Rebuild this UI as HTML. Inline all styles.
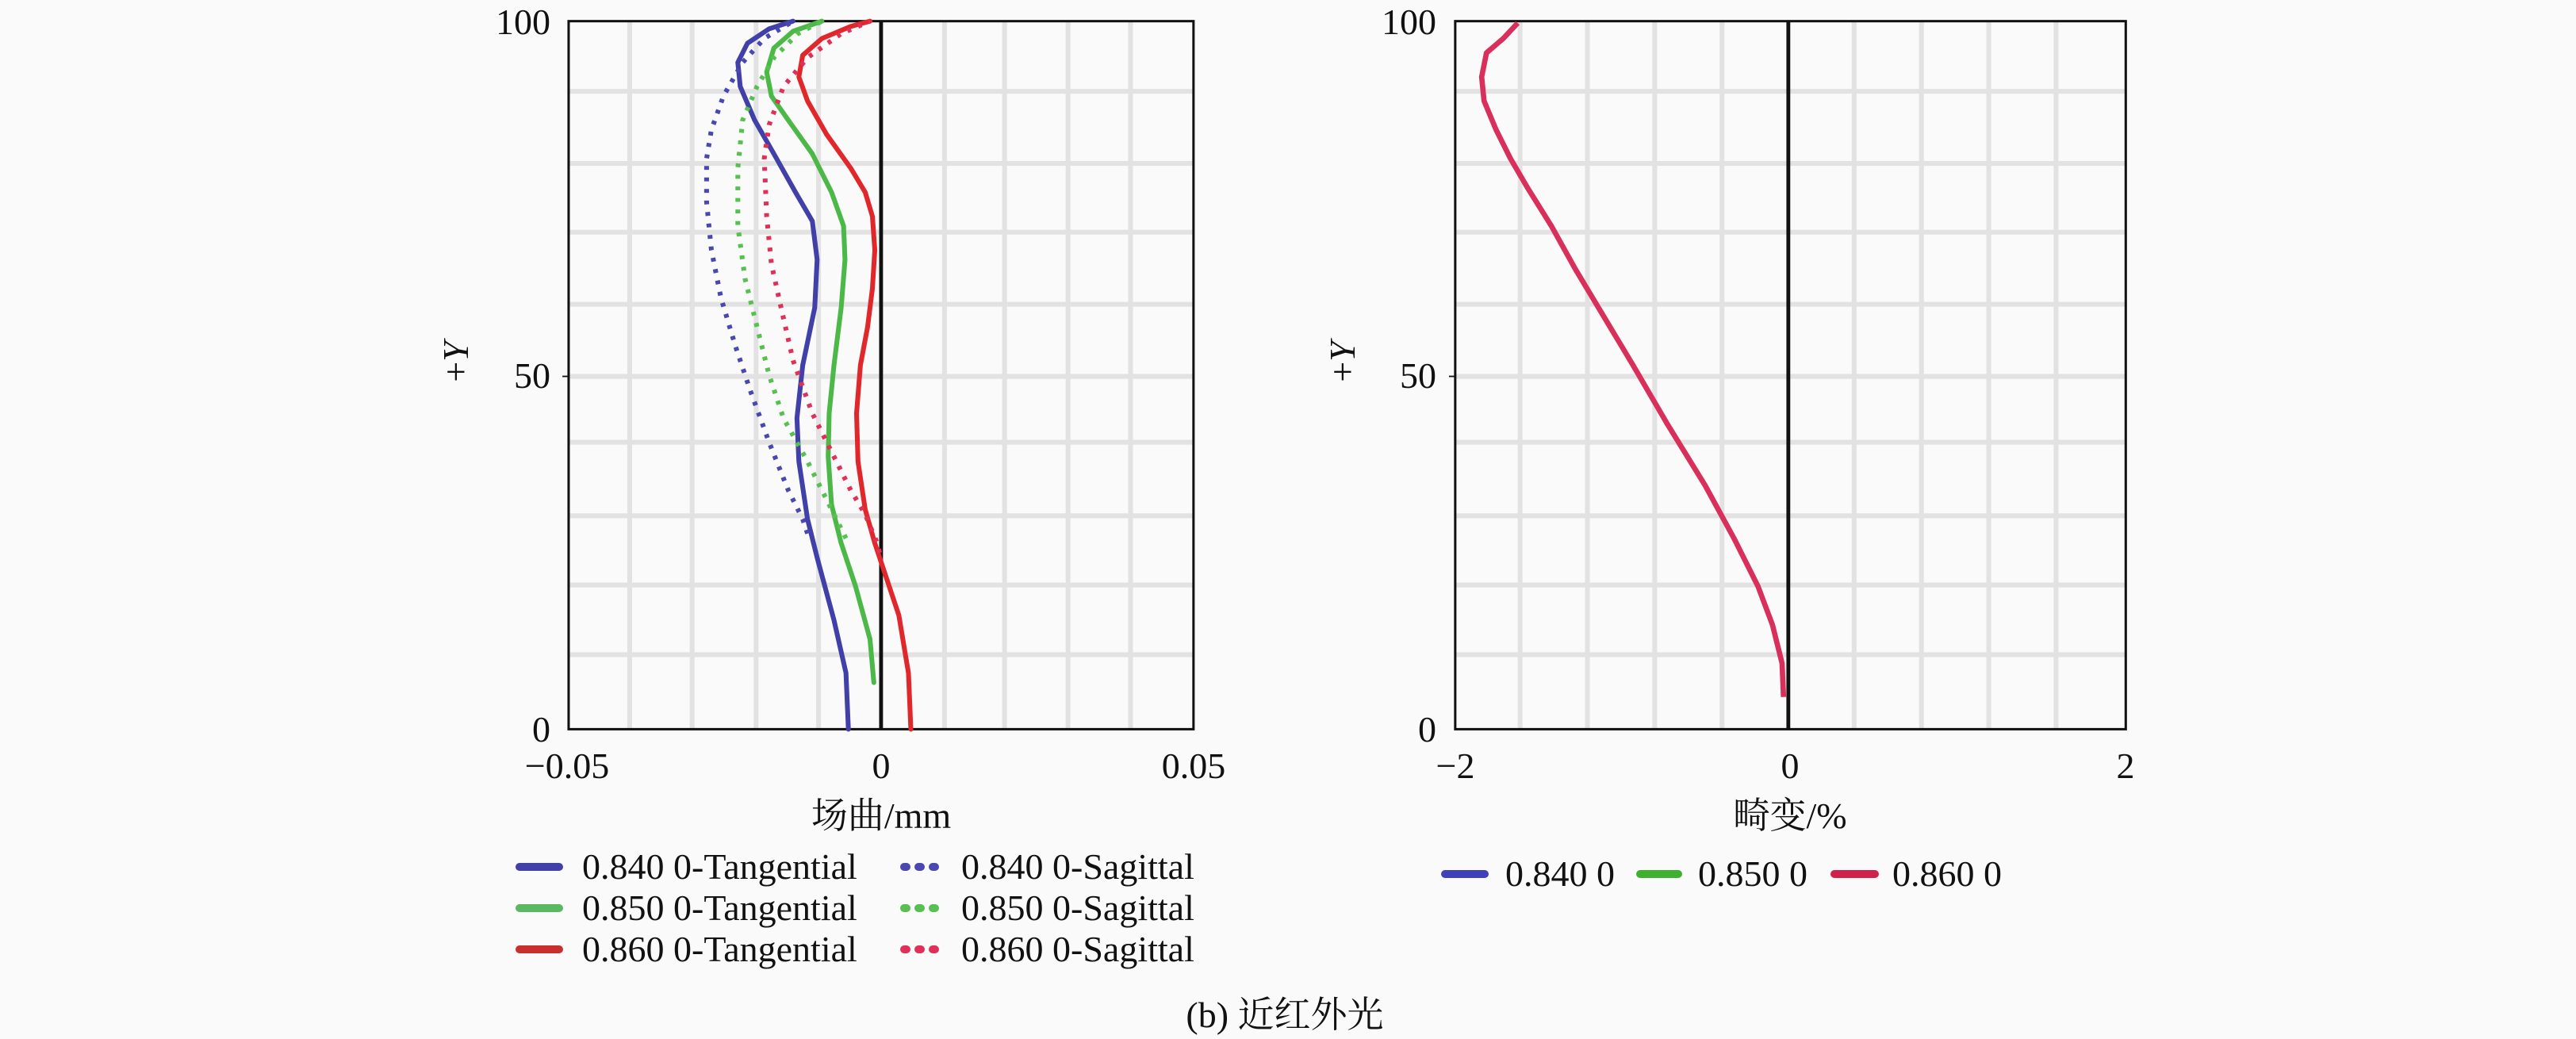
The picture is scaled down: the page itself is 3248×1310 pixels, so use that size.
<!DOCTYPE html>
<html><head><meta charset="utf-8"><style>
html,body{margin:0;padding:0;background:#fafafa;}
svg{display:block;}
text{font-family:"Liberation Serif","Noto Serif CJK SC",serif;fill:#111;}
</style></head><body>
<svg width="3248" height="1310" viewBox="0 0 3248 1310" xmlns="http://www.w3.org/2000/svg">
<rect width="3248" height="1310" fill="#fafafa"/>
<!-- LEFT PLOT -->
<g transform="translate(600,0) scale(0.60606)">
 <g stroke="#e2e2e2" stroke-width="10">
  <line x1="320" y1="44" x2="320" y2="1517"/><line x1="450" y1="44" x2="450" y2="1517"/>
  <line x1="583" y1="44" x2="583" y2="1517"/><line x1="713" y1="44" x2="713" y2="1517"/>
  <line x1="975" y1="44" x2="975" y2="1517"/><line x1="1100" y1="44" x2="1100" y2="1517"/>
  <line x1="1232" y1="44" x2="1232" y2="1517"/><line x1="1362" y1="44" x2="1362" y2="1517"/>
  <line x1="193" y1="190" x2="1493" y2="190"/><line x1="193" y1="340" x2="1493" y2="340"/>
  <line x1="193" y1="483" x2="1493" y2="483"/><line x1="193" y1="633" x2="1493" y2="633"/>
  <line x1="193" y1="783" x2="1493" y2="783"/><line x1="193" y1="920" x2="1493" y2="920"/>
  <line x1="193" y1="1073" x2="1493" y2="1073"/><line x1="193" y1="1217" x2="1493" y2="1217"/>
  <line x1="193" y1="1362" x2="1493" y2="1362"/>
 </g>
 <rect x="193" y="44" width="1300" height="1473" fill="none" stroke="#111" stroke-width="5"/>
 <line x1="843" y1="44" x2="843" y2="1517" stroke="#111" stroke-width="8"/>
 <line x1="180" y1="783" x2="193" y2="783" stroke="#111" stroke-width="3"/>
 <g fill="none" stroke-width="10" stroke-linejoin="round" stroke-linecap="round">
  <polyline stroke="#4040a8" points="775,1517 770,1400 745,1290 710,1160 690,1080 672,960 668,870 680,760 705,640 710,540 700,460 665,400 620,320 580,250 550,180 545,130 565,90 610,60 660,44"/>
  <polyline stroke="#4848b0" stroke-dasharray="8,16" stroke-linecap="butt" points="690,1110 680,1080 650,1020 610,920 570,810 540,720 510,620 490,520 480,420 480,330 490,270 515,200 555,130 600,80 660,44"/>
  <polyline stroke="#4cb848" points="828,1420 820,1330 790,1220 760,1130 740,1050 733,950 735,860 745,760 760,640 768,540 765,470 740,400 700,320 650,250 615,200 605,150 620,100 660,65 720,44"/>
  <polyline stroke="#58c050" stroke-dasharray="8,16" stroke-linecap="butt" points="770,1120 760,1100 720,1020 690,960 640,870 610,780 585,680 560,580 545,470 545,350 555,250 585,180 620,120 670,70 720,44"/>
  <polyline stroke="#e0282c" points="905,1517 900,1400 880,1280 850,1190 830,1130 810,1060 795,960 792,860 800,760 815,680 825,600 830,520 825,450 810,400 780,350 730,280 690,210 672,160 680,115 720,80 780,55 820,44"/>
  <polyline stroke="#e03058" stroke-dasharray="8,16" stroke-linecap="butt" points="840,1150 835,1130 810,1070 780,1020 740,940 700,860 660,750 635,640 615,550 605,450 600,330 610,260 640,180 690,120 760,70 820,44"/>
 </g>
</g>
<!-- RIGHT PLOT -->
<g transform="translate(1750,0) scale(0.60606)">
 <g stroke="#e2e2e2" stroke-width="10">
  <line x1="275" y1="44" x2="275" y2="1517"/><line x1="415" y1="44" x2="415" y2="1517"/>
  <line x1="555" y1="44" x2="555" y2="1517"/><line x1="695" y1="44" x2="695" y2="1517"/>
  <line x1="970" y1="44" x2="970" y2="1517"/><line x1="1110" y1="44" x2="1110" y2="1517"/>
  <line x1="1250" y1="44" x2="1250" y2="1517"/><line x1="1390" y1="44" x2="1390" y2="1517"/>
  <line x1="140" y1="190" x2="1535" y2="190"/><line x1="140" y1="340" x2="1535" y2="340"/>
  <line x1="140" y1="483" x2="1535" y2="483"/><line x1="140" y1="633" x2="1535" y2="633"/>
  <line x1="140" y1="783" x2="1535" y2="783"/><line x1="140" y1="920" x2="1535" y2="920"/>
  <line x1="140" y1="1073" x2="1535" y2="1073"/><line x1="140" y1="1217" x2="1535" y2="1217"/>
  <line x1="140" y1="1362" x2="1535" y2="1362"/>
 </g>
 <rect x="140" y="44" width="1395" height="1473" fill="none" stroke="#111" stroke-width="5"/>
 <line x1="833" y1="44" x2="833" y2="1517" stroke="#111" stroke-width="8"/>
 <line x1="127" y1="783" x2="140" y2="783" stroke="#111" stroke-width="3"/>
 <polyline fill="none" stroke="#d8305a" stroke-width="11" stroke-linejoin="round" points="823,1450 820,1380 800,1300 770,1220 720,1120 660,1010 580,880 510,760 450,660 390,560 340,470 290,390 255,330 225,270 200,210 195,160 205,110 240,80 270,48"/>
</g>
<!-- tick labels -->
<g font-size="46">
 <text x="694" y="43" text-anchor="end">100</text>
 <text x="694" y="489" text-anchor="end">50</text>
 <text x="694" y="935" text-anchor="end">0</text>
 <text x="1811" y="43" text-anchor="end">100</text>
 <text x="1811" y="489" text-anchor="end">50</text>
 <text x="1811" y="935" text-anchor="end">0</text>
 <text x="715" y="981" text-anchor="middle">−0.05</text>
 <text x="1111" y="981" text-anchor="middle">0</text>
 <text x="1505" y="981" text-anchor="middle">0.05</text>
 <text x="1835" y="981" text-anchor="middle">−2</text>
 <text x="2257" y="981" text-anchor="middle">0</text>
 <text x="2680" y="981" text-anchor="middle">2</text>
 <text transform="translate(590,456) rotate(-90)" text-anchor="middle">+<tspan font-style="italic">Y</tspan></text>
 <text transform="translate(1708,456) rotate(-90)" text-anchor="middle">+<tspan font-style="italic">Y</tspan></text>
 <text x="1111" y="1044" text-anchor="middle">场曲/mm</text>
 <text x="2257" y="1044" text-anchor="middle">畸变/%</text>
 <text x="734" y="1108">0.840 0-Tangential</text>
 <text x="734" y="1160">0.850 0-Tangential</text>
 <text x="734" y="1212">0.860 0-Tangential</text>
 <text x="1212" y="1108">0.840 0-Sagittal</text>
 <text x="1212" y="1160">0.850 0-Sagittal</text>
 <text x="1212" y="1212">0.860 0-Sagittal</text>
 <text x="1898" y="1117">0.840 0</text>
 <text x="2141" y="1117">0.850 0</text>
 <text x="2386" y="1117">0.860 0</text>
 <text x="1620" y="1295" text-anchor="middle">(b) 近红外光</text>
</g>
<!-- legend swatches -->
<g stroke-width="10" stroke-linecap="round">
 <line x1="655" y1="1093" x2="705" y2="1093" stroke="#4040a8"/>
 <line x1="655" y1="1145" x2="705" y2="1145" stroke="#5cb860"/>
 <line x1="655" y1="1197" x2="705" y2="1197" stroke="#c83030"/>
 <line x1="1140" y1="1093" x2="1185" y2="1093" stroke="#4848b0" stroke-dasharray="3,15"/>
 <line x1="1140" y1="1145" x2="1185" y2="1145" stroke="#58c050" stroke-dasharray="3,15"/>
 <line x1="1140" y1="1197" x2="1185" y2="1197" stroke="#e03058" stroke-dasharray="3,15"/>
 <line x1="1822" y1="1102" x2="1872" y2="1102" stroke="#4040b8"/>
 <line x1="2068" y1="1102" x2="2116" y2="1102" stroke="#40b030"/>
 <line x1="2313" y1="1102" x2="2364" y2="1102" stroke="#d0204c"/>
</g>
</svg>
</body></html>
